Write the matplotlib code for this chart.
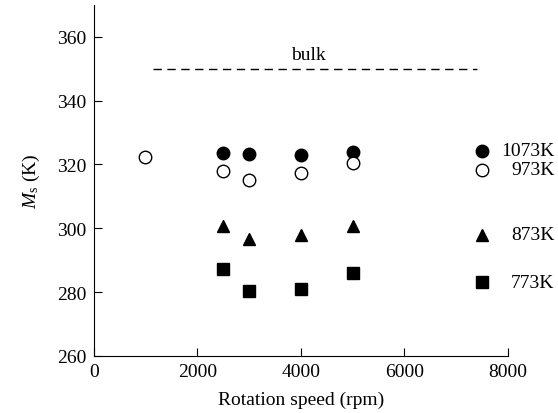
"""
Ms vs rotation speed for several annealing temperatures
"""
import matplotlib
matplotlib.use("Agg")
import matplotlib.pyplot as plt

speed = [2500, 3000, 4000, 5000]
ms_1073 = [323.6, 323.3, 323.0, 324.0]
speed_973 = [1000, 2500, 3000, 4000, 5000]
ms_973 = [322.3, 318.0, 315.2, 317.4, 320.5]
ms_873 = [300.7, 296.6, 298.0, 300.7]
ms_773 = [287.3, 280.2, 281.0, 286.0]

labels = ["1073K", "973K", "873K", "773K"]
key_x = 7500
key_y = [324.3, 318.3, 298.0, 283.0]

bulk_x = [1150, 7400]
bulk_ms = 350

plt.rcParams["font.family"] = "Liberation Serif"
plt.rcParams["mathtext.fontset"] = "custom"
plt.rcParams["mathtext.rm"] = "Liberation Serif"
plt.rcParams["mathtext.it"] = "Liberation Serif:italic"

fig = plt.figure(figsize=(5.58, 4.14), dpi=100)
ax = fig.add_axes([0.168, 0.138, 0.742, 0.848])

ax.plot(speed, ms_1073, "o", color="black", markersize=9)
ax.plot(speed_973, ms_973, "o", mfc="white", mec="black", mew=1.0, markersize=9)
ax.plot(speed, ms_873, "^", color="black", markersize=8)
ax.plot(speed, ms_773, "s", color="black", markersize=9)

# hand-made key on the right
ax.plot(key_x, key_y[0], "o", color="black", markersize=9, clip_on=False)
ax.plot(key_x, key_y[1], "o", mfc="white", mec="black", mew=1.0, markersize=9, clip_on=False)
ax.plot(key_x, key_y[2], "^", color="black", markersize=8, clip_on=False)
ax.plot(key_x, key_y[3], "s", color="black", markersize=9, clip_on=False)
for lab, y in zip(labels, key_y):
    ax.text(8900, y, lab, ha="right", va="center", fontsize=14, clip_on=False)

ax.plot(bulk_x, [bulk_ms, bulk_ms], color="black", lw=1, dashes=(6, 4))
ax.text(4150, 354.5, "bulk", ha="center", va="center", fontsize=14)

ax.set_xlim(0, 8000)
ax.set_ylim(260, 370)
ax.set_xticks([0, 2000, 4000, 6000, 8000])
ax.set_yticks([260, 280, 300, 320, 340, 360])
ax.tick_params(direction="in", labelsize=14, length=6, pad=5)
ax.spines["top"].set_visible(False)
ax.spines["right"].set_visible(False)

ax.set_xlabel("Rotation speed (rpm)", fontsize=14, labelpad=8)
ax.set_ylabel(r"$M_{\rm s}$ (K)", fontsize=14, labelpad=11)

fig.savefig("out.png", dpi=100)
